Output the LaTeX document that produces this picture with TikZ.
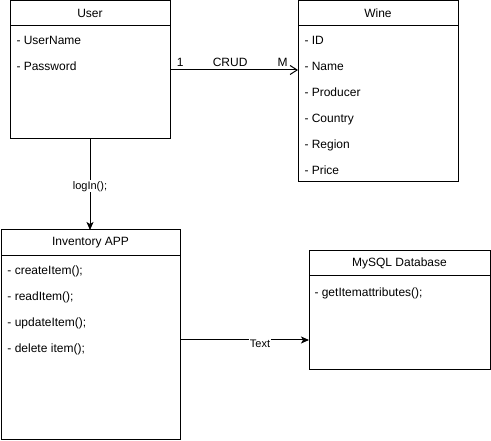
\documentclass[tikz,border=0pt]{standalone}
\usepackage{fontspec}
\setmainfont{Liberation Sans}
\usetikzlibrary{arrows.meta,positioning}
\tikzset{
  classbox/.style={draw,inner sep=0pt,outer sep=0pt},
  classhead/.style={draw,inner sep=0pt,outer sep=0pt,minimum height=25pt,anchor=north},
  item/.style={anchor=base west,inner sep=0pt},
  lbl/.style={font=\fontsize{11}{13}\selectfont,fill=white,inner sep=1pt},
  mult/.style={above=3pt,inner sep=0pt},
  crud/.style={-{Straight Barb[length=7pt,width=9pt]}},
  call/.style={-{Stealth[length=8pt,width=7pt,inset=2pt]}}
}
\begin{document}
\begin{tikzpicture}[x=1pt,y=-1pt,line width=1pt,font=\fontsize{12}{14}\selectfont]
  \useasboundingbox (0,0) rectangle (491,441);
  % classes
  \node[classbox,minimum width=160pt,minimum height=138pt] (user) at (90,70) {};
  \node[classhead,minimum width=160pt] (userhead) at (user.north) {User};
  \foreach \t [count=\i] in {UserName,Password}
    \node[item] (user\i) at ([shift={(6,{19+26*(\i-1)})}]userhead.south west) {- \t};
  \node[classbox,minimum width=160pt,minimum height=181pt] (wine) at (378,91.5) {};
  \node[classhead,minimum width=160pt] (winehead) at (wine.north) {Wine};
  \foreach \t [count=\i] in {ID,Name,Producer,Country,Region,Price}
    \node[item] (wine\i) at ([shift={(6,{19+26*(\i-1)})}]winehead.south west) {- \t};
  \node[classbox,minimum width=179pt,minimum height=210pt] (inventory) at (90.5,335) {};
  \node[classhead,minimum width=179pt,minimum height=26pt] (inventoryhead) at (inventory.north) {Inventory APP};
  \foreach \t [count=\i] in {createItem();,readItem();,updateItem();,delete item();}
    \node[item] (inventory\i) at ([shift={(6,{18.5+26*(\i-1)})}]inventoryhead.south west) {- \t};
  \node[classbox,minimum width=181pt,minimum height=119pt] (mysql) at (399.5,310.5) {};
  \node[classhead,minimum width=181pt] (mysqlhead) at (mysql.north) {MySQL Database};
  \node[item] (mysql1) at ([shift={(5,21)}]mysqlhead.south west) {- getItemattributes();};
  % connectors
  \draw[crud] (user.east) -- (user.east -| wine.west)
    node[mult,pos=0.08] (one) {1}
    node[mult,pos=0.47] (crudlbl) {CRUD}
    node[mult,pos=0.88] (many) {M};
  \draw[call] (user.south) -- (user.south |- inventory.north)
    node[lbl,pos=0.52] (login) {logIn();};
  \draw[call] ([yshift=-5pt]inventory.east) -- ([yshift=-5pt]inventory.east -| mysql.west)
    node[lbl,pos=0.62,yshift=-4pt] (textlbl) {Text};
\end{tikzpicture}
\end{document}
